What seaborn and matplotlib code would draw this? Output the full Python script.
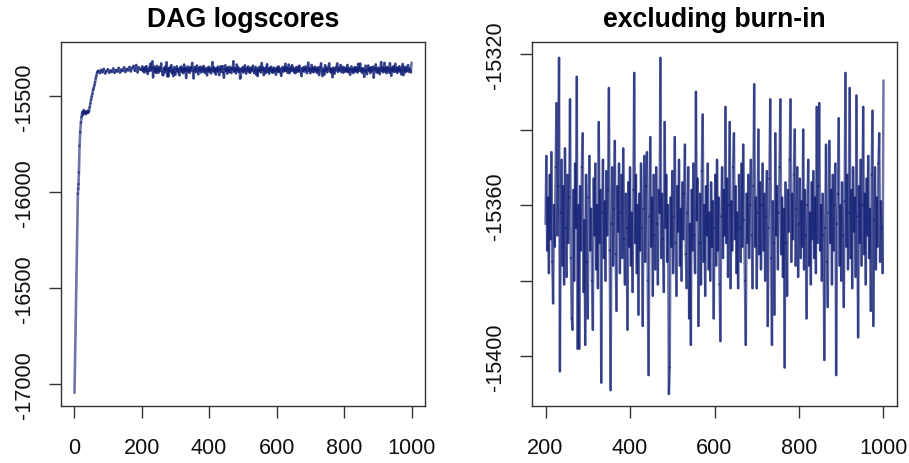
import numpy as np
import pandas as pd
import matplotlib
matplotlib.use("Agg")
import matplotlib.pyplot as plt
import seaborn as sns

# ---- data ----
burnin_iters = [1, 11, 12, 13, 14, 16, 18, 20, 22, 24, 26, 28, 30, 32, 34, 36, 38, 40,
                42, 44, 46, 48, 50, 52, 54, 56, 58, 60, 62, 64, 66, 68, 70]
burnin_scores = [-17047, -16010, -15985, -15960, -15900, -15760, -15690, -15640, -15610,
                 -15585, -15600, -15575, -15590, -15580, -15595, -15585, -15590, -15578,
                 -15588, -15580, -15560, -15540, -15520, -15505, -15490, -15470, -15460,
                 -15445, -15430, -15410, -15395, -15380, -15372]

mid_iters = list(range(72, 200, 4))
mid_scores = [-15370, -15382, -15365, -15378, -15360, -15384, -15372, -15362, -15380, -15368,
              -15376, -15358, -15381, -15366, -15374, -15355, -15379, -15363, -15371, -15352,
              -15376, -15360, -15368, -15350, -15373, -15356, -15345, -15370, -15340, -15378,
              -15352, -15363]

post_iters = list(range(200, 1001, 2))
post_scores = [
    -15365, -15347, -15372, -15358, -15378, -15352, -15369, -15346, -15375, -15386,
    -15360, -15371, -15350, -15333, -15368, -15355, -15321, -15404, -15362, -15348,
    -15376, -15355, -15381, -15345, -15366, -15379, -15352, -15370, -15358, -15332,
    -15374, -15390, -15393, -15356, -15380, -15349, -15366, -15326, -15398, -15360,
    -15398, -15355, -15372, -15350, -15341, -15383, -15364, -15397, -15352, -15375,
    -15390, -15358, -15347, -15372, -15361, -15380, -15393, -15353, -15368, -15349,
    -15377, -15360, -15382, -15338, -15370, -15356, -15407, -15362, -15348, -15374,
    -15359, -15380, -15351, -15368, -15356, -15329, -15372, -15409, -15365, -15350,
    -15376, -15361, -15343, -15373, -15388, -15355, -15367, -15349, -15378, -15362,
    -15352, -15374, -15345, -15369, -15381, -15357, -15366, -15393, -15354, -15371,
    -15350, -15376, -15362, -15383, -15356, -15325, -15370, -15352, -15378, -15360,
    -15389, -15357, -15372, -15349, -15366, -15392, -15361, -15347, -15375, -15355,
    -15346, -15380, -15405, -15363, -15342, -15371, -15358, -15384, -15352, -15368,
    -15377, -15350, -15365, -15381, -15356, -15362, -15321, -15374, -15357, -15369,
    -15383, -15338, -15366, -15352, -15375, -15360, -15410, -15403, -15358, -15371,
    -15351, -15378, -15363, -15342, -15370, -15384, -15355, -15367, -15348, -15376,
    -15361, -15380, -15354, -15369, -15357, -15344, -15373, -15382, -15362, -15350,
    -15390, -15365, -15397, -15356, -15372, -15349, -15368, -15378, -15330, -15364,
    -15353, -15392, -15370, -15357, -15381, -15351, -15336, -15375, -15360, -15384,
    -15355, -15368, -15349, -15377, -15362, -15380, -15354, -15371, -15359, -15390,
    -15366, -15352, -15376, -15348, -15372, -15358, -15381, -15396, -15363, -15350,
    -15374, -15356, -15368, -15334, -15370, -15353, -15379, -15360, -15338, -15382,
    -15359, -15372, -15350, -15341, -15369, -15355, -15378, -15362, -15382, -15352,
    -15366, -15375, -15349, -15371, -15344, -15364, -15380, -15397, -15357, -15370,
    -15352, -15374, -15360, -15348, -15368, -15382, -15355, -15328, -15371, -15358,
    -15382, -15362, -15340, -15373, -15354, -15377, -15360, -15349, -15372, -15357,
    -15380, -15363, -15351, -15392, -15366, -15353, -15332, -15374, -15397, -15359,
    -15370, -15389, -15341, -15368, -15355, -15377, -15362, -15350, -15332, -15373,
    -15358, -15379, -15361, -15403, -15354, -15370, -15384, -15356, -15367, -15348,
    -15332, -15375, -15357, -15369, -15352, -15340, -15376, -15361, -15350, -15379,
    -15365, -15353, -15374, -15359, -15371, -15340, -15377, -15356, -15368, -15390,
    -15360, -15348, -15376, -15362, -15381, -15354, -15369, -15351, -15374, -15358,
    -15378, -15334, -15370, -15355, -15333, -15372, -15360, -15380, -15357, -15368,
    -15401, -15366, -15344, -15375, -15387, -15362, -15343, -15370, -15356, -15381,
    -15352, -15372, -15360, -15349, -15405, -15365, -15357, -15337, -15376, -15360,
    -15380, -15354, -15368, -15387, -15359, -15325, -15371, -15352, -15377, -15362,
    -15329, -15374, -15356, -15382, -15350, -15367, -15358, -15379, -15331, -15363,
    -15395, -15355, -15370, -15348, -15376, -15360, -15334, -15373, -15357, -15381,
    -15353, -15368, -15347, -15374, -15361, -15388, -15352, -15335, -15392, -15364,
    -15350, -15377, -15358, -15371, -15349, -15341, -15375, -15359, -15366, -15378,
    -15327,
]

left_xticks = [0, 200, 400, 600, 800, 1000]
left_yticks = [-17000, -16500, -16000, -15500]
right_xticks = [200, 400, 600, 800, 1000]
right_yticks = [-15400, -15380, -15360, -15340, -15320]
right_ylabels = ["-15400", "", "-15360", "", "-15320"]
titles = ["DAG logscores", "excluding burn-in"]


def segment_frame(iters, scores):
    """One unit per consecutive pair of samples, so overlapping
    semi-transparent segments darken like R's line drawing."""
    xs, ys, units = [], [], []
    for k in range(len(iters) - 1):
        xs += [iters[k], iters[k + 1]]
        ys += [scores[k], scores[k + 1]]
        units += [k, k]
    return pd.DataFrame({"iteration": xs, "logscore": ys, "seg": units})


all_iters = burnin_iters + mid_iters + post_iters
all_scores = burnin_scores + mid_scores + post_scores
full = segment_frame(all_iters, all_scores)
post = segment_frame(post_iters, post_scores)

# ---- style ----
sns.set_style("white")
plt.rcParams['font.family'] = ['Liberation Sans', 'DejaVu Sans']

LINE = "#0c1a72"
FRAME = "#333333"

fig = plt.figure(figsize=(9.09, 4.64), dpi=100)
W, H = 909, 464
ax1 = fig.add_axes([61 / W, 1 - 407 / H, 364 / W, 364 / H])
ax2 = fig.add_axes([532 / W, 1 - 407 / H, 365 / W, 364 / H])

for ax, df, lw in ((ax1, full, 1.9), (ax2, post, 1.8)):
    sns.lineplot(data=df, x="iteration", y="logscore", units="seg", ax=ax,
                 sort=False, estimator=None, color=LINE, alpha=0.6,
                 linewidth=lw, legend=False)

ax1.set_xlim(-39, 1040)
ax1.set_ylim(-17115, -15220)
ax2.set_xlim(168, 1032)
ax2.set_ylim(-15413.2, -15316.8)

ax1.set_xticks(left_xticks)
ax1.set_xticklabels([str(t) for t in left_xticks])
ax1.set_yticks(left_yticks)
ax1.set_yticklabels([str(t) for t in left_yticks])
ax2.set_xticks(right_xticks)
ax2.set_xticklabels([str(t) for t in right_xticks])
ax2.set_yticks(right_yticks)
ax2.set_yticklabels(right_ylabels)

for ax, title in zip((ax1, ax2), titles):
    ax.set_xlabel("")
    ax.set_ylabel("")
    ax.set_title(title, fontsize=19.2, fontweight="bold", pad=11.7, color="black")
    for s in ax.spines.values():
        s.set_visible(True)
        s.set_color(FRAME)
        s.set_linewidth(1.0)
    ax.tick_params(axis="both", direction="out", length=8.6, width=1.0,
                   color=FRAME, labelsize=15.6, labelcolor="#111111")
    ax.tick_params(axis="x", pad=13.5, bottom=True)
    ax.tick_params(axis="y", pad=10, left=True)
    for lbl in ax.get_yticklabels():
        lbl.set_rotation(90)
        lbl.set_va("center")
        lbl.set_ha("right")
    ax.grid(False)

fig.savefig("out.png", dpi=100)
